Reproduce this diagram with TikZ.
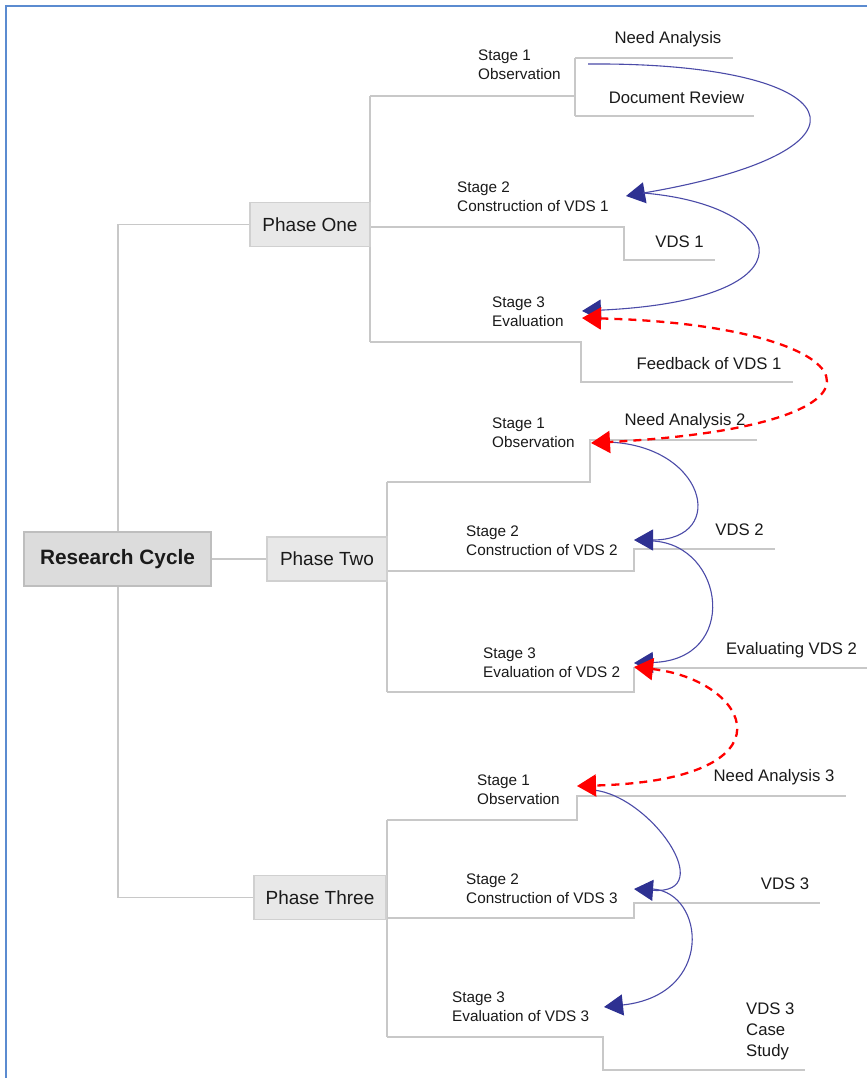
\documentclass[tikz,border=0pt]{standalone}
\usepackage{fontspec}
\setmainfont{Liberation Sans}
\usetikzlibrary{arrows.meta,backgrounds}
\definecolor{treegray}{HTML}{C8C8C8}
\definecolor{frameblue}{HTML}{5B8BD0}
\definecolor{flowblue}{HTML}{4B4BA8}
\definecolor{tipblue}{HTML}{2E3192}
\definecolor{boxfill}{HTML}{E8E8E8}
\definecolor{boxline}{HTML}{D0D0D0}
\definecolor{rootfill}{HTML}{DCDCDC}
\definecolor{rootline}{HTML}{BEBEBE}
\definecolor{inkgray}{HTML}{1A1A1A}
\tikzset{
  tree/.style={draw=treegray, line width=1.4pt},
  rootbox/.style={draw=rootline, fill=rootfill, line width=2pt, minimum width=187pt,
    minimum height=54pt, inner sep=0pt, text=inkgray, font=\fontsize{20.8}{24}\selectfont\bfseries},
  phasebox/.style={draw=boxline, fill=boxfill, line width=1.2pt, minimum height=44pt,
    inner sep=0pt, text=inkgray, font=\fontsize{19}{22}\selectfont},
  stagelabel/.style={anchor=west, align=left, inner sep=0pt, text=inkgray,
    font=\fontsize{15.3}{19}\selectfont},
  leaflabel/.style={inner sep=0pt, text=inkgray, align=left, font=\fontsize{16.7}{21}\selectfont},
  flow/.style={draw=flowblue, line width=1.1pt,
    -{Triangle[length=19pt,width=21pt,color=tipblue]}},
  feedback/.style={draw=red, line width=2.3pt, dash pattern=on 8pt off 6pt,
    {Triangle[length=19pt,width=22pt]}-{Triangle[length=19pt,width=22pt]}}
}
\begin{document}
\begin{tikzpicture}[x=1pt,y=-1pt]
\useasboundingbox (0,0) rectangle (867,1078);

% phase nodes
\node[rootbox] (rc) at (117.5,559) {Research Cycle};
\node[phasebox, minimum width=120pt] (p1) at (310,224.5) {Phase One};
\node[phasebox, minimum width=120pt] (p2) at (327,559) {Phase Two};
\node[phasebox, minimum width=132pt] (p3) at (320,897.5) {Phase Three};

\begin{scope}[on background layer]
  \fill[white] (0,0) rectangle (867,1078);
  % outer frame
  \draw[frameblue, line width=1.6pt] (6,1078) -- (6,6) -- (867,6);
  % trunk
  \draw[tree] (p1.west) -- (118,224.5) -- (118,897.5) -- (p3.west);
  \draw[tree] (rc.east) -- (p2.west);
  % phase one branches
  \draw[tree] (370,96) -- (370,342);
  \draw[tree] (370,96) -- (575,96);
  \draw[tree] (575,58) -- (575,116);
  \draw[tree] (575,58) -- (733,58);
  \draw[tree] (575,116) -- (754,116);
  \draw[tree] (370,227) -- (624,227) -- (624,260) -- (715,260);
  \draw[tree] (370,342) -- (581,342) -- (581,382) -- (793,382);
  % phase two branches
  \draw[tree] (387,482) -- (387,692);
  \draw[tree] (387,482) -- (590,482) -- (590,440) -- (757,440);
  \draw[tree] (387,571) -- (634,571) -- (634,549) -- (775,549);
  \draw[tree] (387,692) -- (634,692) -- (634,668) -- (867,668);
  % phase three branches
  \draw[tree] (387,820) -- (387,1037);
  \draw[tree] (387,820) -- (577,820) -- (577,796) -- (846,796);
  \draw[tree] (387,918) -- (634,918) -- (634,903) -- (820,903);
  \draw[tree] (387,1037) -- (603,1037) -- (603,1070) -- (805,1070);
\end{scope}

% stage labels
\node[stagelabel] (s11) at (478,65) {Stage 1\\Observation};
\node[stagelabel] (s12) at (457,196.5) {Stage 2\\Construction of VDS 1};
\node[stagelabel] (s13) at (492,311.5) {Stage 3\\Evaluation};
\node[stagelabel] (s21) at (492,432.5) {Stage 1\\Observation};
\node[stagelabel] (s22) at (466,540.5) {Stage 2\\Construction of VDS 2};
\node[stagelabel] (s23) at (483,662.5) {Stage 3\\Evaluation of VDS 2};
\node[stagelabel] (s31) at (477,789.5) {Stage 1\\Observation};
\node[stagelabel] (s32) at (466,888.5) {Stage 2\\Construction of VDS 3};
\node[stagelabel] (s33) at (452,1006.5) {Stage 3\\Evaluation of VDS 3};

% leaf labels
\node[leaflabel] (l1a) at (668,39) {Need Analysis};
\node[leaflabel] (l1b) at (676.5,98) {Document Review};
\node[leaflabel] (l1c) at (679.5,242) {VDS 1};
\node[leaflabel] (l1d) at (709,364) {Feedback of VDS 1};
\node[leaflabel] (l2a) at (685,421) {Need Analysis 2};
\node[leaflabel] (l2b) at (739.5,530) {VDS 2};
\node[leaflabel] (l2c) at (791.5,650) {Evaluating VDS 2};
\node[leaflabel] (l3a) at (774,777) {Need Analysis 3};
\node[leaflabel] (l3b) at (785,884) {VDS 3};
\node[leaflabel, anchor=west] (l3c) at (746,1031) {VDS 3\\Case\\Study};

% flow anchors
\coordinate (f1s) at (588,64);
\coordinate (f1e) at (626,196);
\coordinate (f2s) at (643,193);
\coordinate (f2e) at (582,311);
\coordinate (r1s) at (582,318);
\coordinate (r1e) at (591,443);
\coordinate (f4s) at (603,442);
\coordinate (f4e) at (634,540);
\coordinate (f5s) at (653,541);
\coordinate (f5e) at (634,663);
\coordinate (r2s) at (634,667);
\coordinate (r2e) at (577,786);
\coordinate (f7s) at (593,790);
\coordinate (f7e) at (634,889);
\coordinate (f8s) at (653,889);
\coordinate (f8e) at (604,1007);

% flow arrows
\draw[flow] (f1s) .. controls (850,62) and (895,150) .. (f1e);
\draw[flow] (f2s) .. controls (790,205) and (820,300) .. (f2e);
\draw[flow] (f4s) .. controls (705,442) and (730,540) .. (f4e);
\draw[flow] (f5s) .. controls (725,545) and (740,660) .. (f5e);
\draw[flow] (f7s) .. controls (650,795) and (720,895) .. (f7e);
\draw[flow] (f8s) .. controls (705,893) and (715,995) .. (f8e);
% feedback arrows between phases
\draw[feedback] (r1s) .. controls (870,325) and (930,425) .. (r1e);
\draw[feedback] (r2s) .. controls (750,680) and (800,780) .. (r2e);
\end{tikzpicture}
\end{document}
